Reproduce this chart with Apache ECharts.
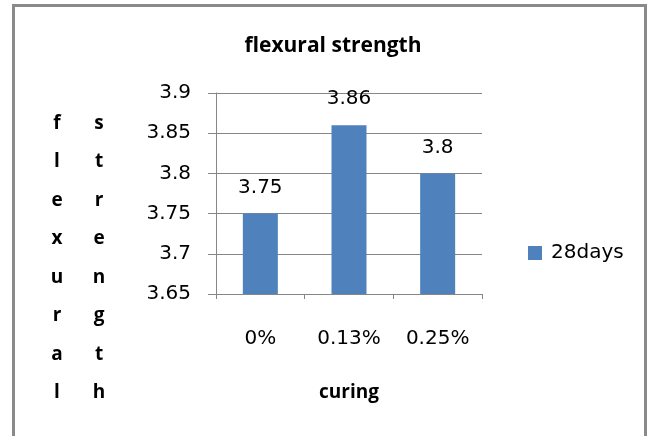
<!DOCTYPE html>
<html>
<head>
<meta charset="utf-8">
<script src="https://cdn.jsdelivr.net/npm/echarts@6/dist/echarts.min.js"></script>
<style>
  html, body { margin: 0; padding: 0; background: #fff; }
  #chart { width: 649px; height: 436px; }
</style>
</head>
<body>
<div id="chart"></div>
<script>
// flexural strength - 28 days
const categories = ['0%', '0.13%', '0.25%']
const days28 = [3.75, 3.86, 3.8]
const yTicks = { min: 3.65, max: 3.9, interval: 0.05 }
const yTitleLeft = 'flexural'
const yTitleRight = 'strength'

const font = '"DejaVu Sans", Verdana, sans-serif'
const boldFont = '"Open Sans", "Liberation Sans", sans-serif'

const chart = echarts.init(document.getElementById('chart'))

const option = {
    backgroundColor: '#fff',
    animation: false,
    title: [
        {
            text: 'flexural strength',
            left: 328, top: 31, textAlign: 'center',
            textStyle: { fontFamily: boldFont, fontWeight: 'bold', fontSize: 21, color: '#000' }
        },
        {
            text: yTitleLeft.split('').join('\n'),
            left: 52, top: 99, textAlign: 'center',
            textStyle: { fontFamily: boldFont, fontWeight: 'bold', fontSize: 19, lineHeight: 38.5, color: '#000' }
        },
        {
            text: yTitleRight.split('').join('\n'),
            left: 94, top: 99, textAlign: 'center',
            textStyle: { fontFamily: boldFont, fontWeight: 'bold', fontSize: 19, lineHeight: 38.5, color: '#000' }
        }
    ],
    legend: {
        data: ['28days'],
        left: 523, top: 238,
        itemWidth: 14, itemHeight: 14, itemGap: 4,
        icon: 'rect',
        textStyle: { fontFamily: font, fontSize: 20, color: '#000', padding: [0, 0, 0, 4] }
    },
    grid: { left: 216, right: 167, top: 93, bottom: 142, containLabel: false },
    xAxis: {
        type: 'category',
        data: categories,
        name: 'curing',
        nameLocation: 'middle',
        nameGap: 89,
        nameTextStyle: { fontFamily: boldFont, fontWeight: 'bold', fontSize: 19, color: '#000' },
        axisLine: { lineStyle: { color: '#868686', width: 1 } },
        axisTick: { show: true, length: 5, lineStyle: { color: '#868686' } },
        axisLabel: { fontFamily: font, fontSize: 20, color: '#000', margin: 35 }
    },
    yAxis: {
        type: 'value',
        min: yTicks.min, max: yTicks.max, interval: yTicks.interval,
        axisLine: { show: true, lineStyle: { color: '#868686' } },
        axisTick: { show: true, length: 8, lineStyle: { color: '#868686' } },
        splitLine: { lineStyle: { color: '#868686' } },
        axisLabel: {
            fontFamily: font, fontSize: 20, color: '#000', margin: 25,
            formatter: v => String(+v.toFixed(2))
        }
    },
    series: [{
        name: '28days',
        type: 'bar',
        data: days28,
        barWidth: 35,
        itemStyle: { color: '#4f81bd' },
        label: {
            show: true, position: 'top', distance: 16,
            fontFamily: font, fontSize: 20, color: '#000'
        }
    }],
    graphic: [{
        type: 'rect',
        shape: { x: 13.5, y: 5.5, width: 632, height: 480 },
        style: { fill: 'none', stroke: '#8a8a8a', lineWidth: 3 },
        silent: true
    }]
}

chart.setOption(option)
</script>
</body>
</html>
